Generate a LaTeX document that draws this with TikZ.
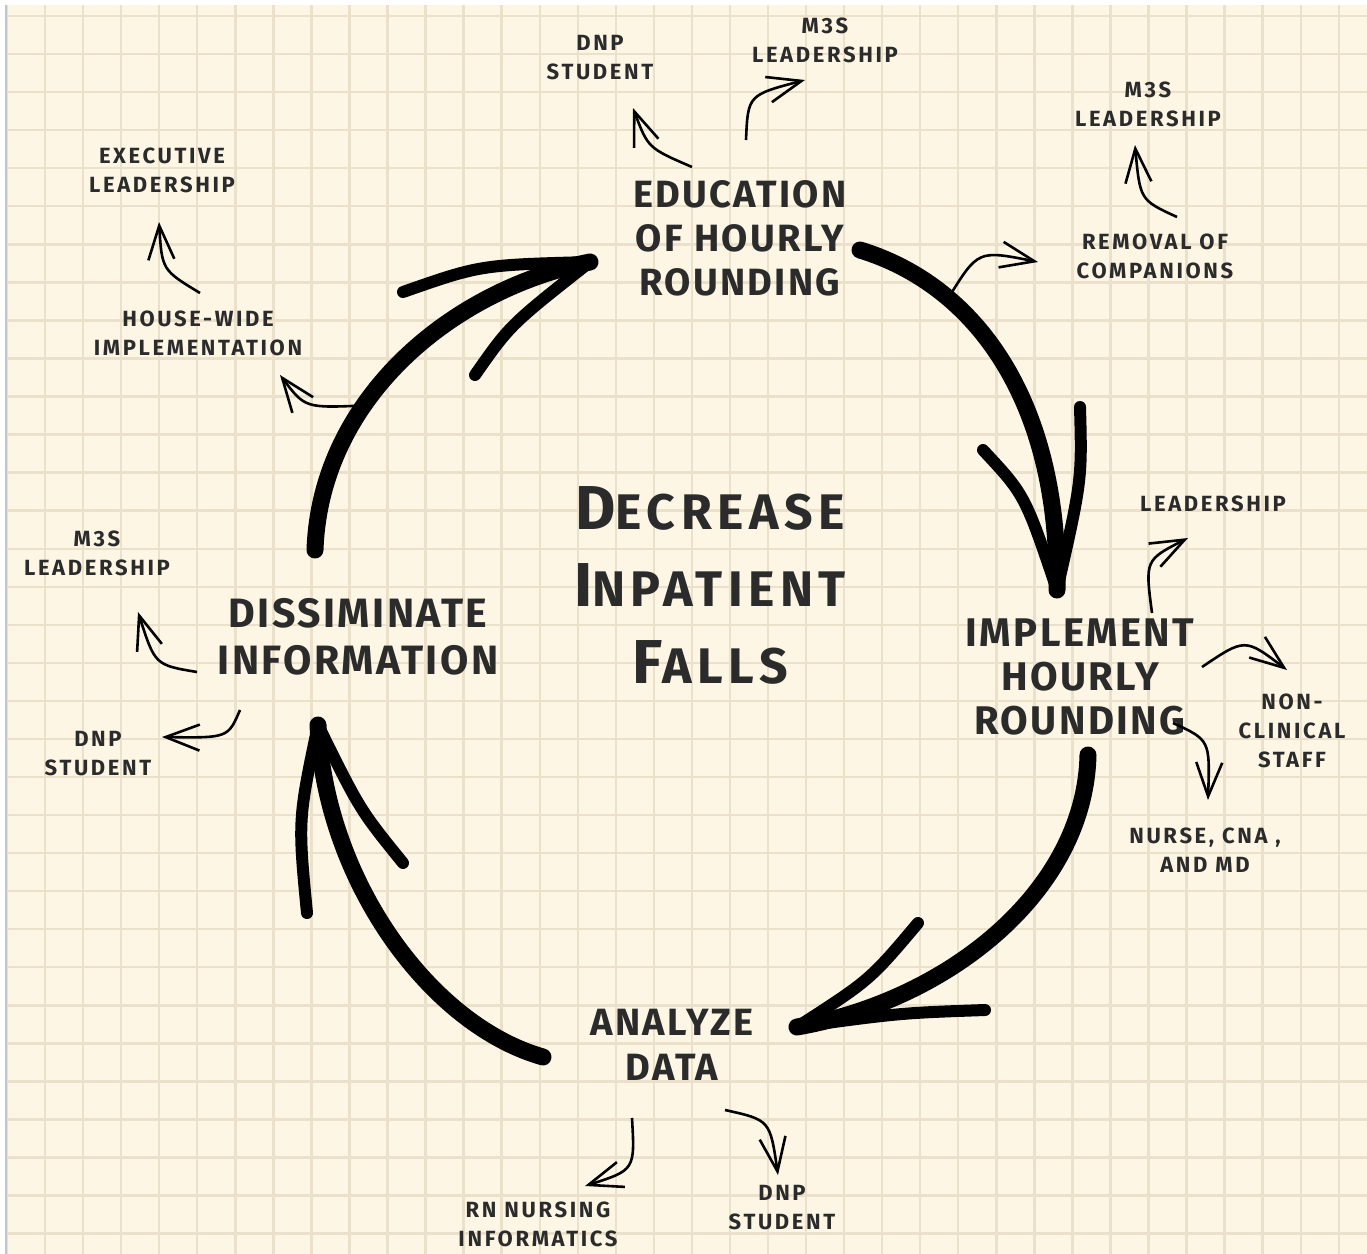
\documentclass[tikz,border=0pt]{standalone}
\usepackage{fontspec}
\setmainfont{Fira Sans}
\newfontfamily\handfont{Fira Sans}[LetterSpace=6]
\newfontfamily\titlefont{Fira Sans}[LetterSpace=11]
\newfontfamily\notefont{Fira Sans}[LetterSpace=12]
\usetikzlibrary{arrows.meta}
\definecolor{paper}{HTML}{FDF6E4}
\definecolor{gridc}{HTML}{EBE1CA}
\definecolor{edgec}{HTML}{BCC8CE}
\definecolor{ink}{HTML}{2B2B2B}
\newcommand{\capword}[2]{{\fontsize{31}{38}\selectfont #1}{\fontsize{25}{38}\selectfont #2}}

\begin{document}
\begin{tikzpicture}[x=0.5pt,y=-0.5pt,
    stage/.style={text=ink,align=center,font={\handfont\bfseries\fontsize{19}{22}\selectfont}},
    note/.style={text=ink,align=center,font={\notefont\bfseries\fontsize{11}{14.5}\selectfont}},
    brush/.style={draw=black,line width=8.5pt,line cap=round},
    barb/.style={draw=black,line width=6pt,line cap=round},
    link/.style={draw=black,line width=1.3pt,-{Straight Barb[length=17pt,width=13pt]}},
    gridline/.style={draw=gridc,line width=1.2pt}]
    \useasboundingbox (0,0) rectangle (1367,1254);
    \fill[white] (0,0) rectangle (1367,1254);
    \fill[paper] (6,5) rectangle (1367,1254);
    \foreach \i in {0,...,35}
      \draw[gridline] ({7+38.05*\i},5) -- ({7+38.05*\i},1254);
    \foreach \j in {0,...,32}
      \draw[gridline] (6,{16+38.05*\j}) -- (1367,{16+38.05*\j});
    \draw[edgec,line width=1pt] (5.5,5) -- (5.5,1254);

    \node[stage] (Edu) at (740,238) {EDUCATION\\OF HOURLY\\ROUNDING};
    \node[stage,font={\handfont\bfseries\fontsize{20}{22}\selectfont}] (Impl) at (1080,677) {IMPLEMENT\\HOURLY\\ROUNDING};
    \node[stage,font={\handfont\bfseries\fontsize{19}{22.5}\selectfont}] (Anal) at (672,1045) {ANALYZE\\DATA};
    \node[stage,font={\handfont\bfseries\fontsize{20.5}{23.5}\selectfont}] (Diss) at (358,637) {DISSIMINATE\\INFORMATION};
    \node[stage,font={\titlefont\bfseries\fontsize{25}{38.5}\selectfont}] (Goal) at (710,585)
      {\capword{D}{ECREASE}\\\capword{I}{NPATIENT}\\\capword{F}{ALLS}};

    \node[note] (dnpT) at (600,58) {DNP\\STUDENT};
    \node[note] (mssT) at (825,40) {M3S\\LEADERSHIP};
    \node[note] (mssR) at (1148,104) {M3S\\LEADERSHIP};
    \node[note] (remv) at (1155,256) {REMOVAL OF\\COMPANIONS};
    \node[note] (exec) at (162,170) {EXECUTIVE\\LEADERSHIP};
    \node[note] (house) at (198,333) {HOUSE-WIDE\\IMPLEMENTATION};
    \node[note] (mssL) at (97,553) {M3S\\LEADERSHIP};
    \node[note] (dnpL) at (98,754) {DNP\\STUDENT};
    \node[note] (lead) at (1213,504) {LEADERSHIP};
    \node[note] (nonc) at (1292,731) {NON-\\CLINICAL\\STAFF};
    \node[note] (nurse) at (1205,850) {NURSE, CNA ,\\AND MD};
    \node[note] (rn) at (538,1224) {RN NURSING\\INFORMATICS};
    \node[note] (dnpB) at (782,1208) {DNP\\STUDENT};

    \draw[brush] ([shift={(120,12)}]Edu.center) .. controls (975,285) and (1060,400) .. ([shift={(-23,-87)}]Impl.center) coordinate[pos=0.28] (aOut) coordinate (aTip);
    \draw[barb] (1080,407) .. controls (1082,480) .. (aTip);
    \draw[barb] (983,450) .. controls (1025,495) .. (aTip);
    \draw[brush] ([shift={(8,78)}]Impl.center) .. controls (1085,890) and (950,1000) .. ([shift={(125,-18)}]Anal.center) coordinate (bTip);
    \draw[barb] (918,923) .. controls (870,980) .. (bTip);
    \draw[barb] (985,1010) .. controls (900,1013) .. (bTip);
    \draw[brush] ([shift={(-129,12)}]Anal.center) .. controls (430,1025) and (325,880) .. ([shift={(-40,88)}]Diss.center) coordinate (cTip);
    \draw[barb] (403,863) .. controls (360,810) .. (cTip);
    \draw[barb] (307,913) .. controls (298,820) .. (cTip);
    \draw[brush] ([shift={(-43,-87)}]Diss.center) .. controls (320,400) and (450,290) .. ([shift={(-150,24)}]Edu.center) coordinate[pos=0.36] (dOut) coordinate (dTip);
    \draw[barb] (403,292) .. controls (480,265) .. (dTip);
    \draw[barb] (475,375) .. controls (510,325) .. (dTip);

    \draw[link] ([shift={(-48,-71)}]Edu.center) .. controls (648,148) .. ([shift={(33,50)}]dnpT.center);
    \draw[link] ([shift={(6,-98)}]Edu.center) .. controls (748,95) .. ([shift={(-20,40)}]mssT.center);
    \draw[link] (aOut) .. controls (978,250) .. ([shift={(-117,6)}]remv.center);
    \draw[link] ([shift={(22,-39)}]remv.center) .. controls (1140,200) .. ([shift={(-13,41)}]mssR.center);
    \draw[link] ([shift={(2,-40)}]house.center) .. controls (162,270) .. ([shift={(-3,52)}]exec.center);
    \draw[link] (dOut) .. controls (305,408) .. ([shift={(82,42)}]house.center);
    \draw[link] ([shift={(-161,35)}]Diss.center) .. controls (155,665) .. ([shift={(41,59)}]mssL.center);
    \draw[link] ([shift={(-118,73)}]Diss.center) .. controls (228,738) .. ([shift={(64,-17)}]dnpL.center);
    \draw[link] ([shift={(72,-64)}]Impl.center) .. controls (1145,560) .. ([shift={(-25,34)}]lead.center);
    \draw[link] ([shift={(122,-10)}]Impl.center) .. controls (1245,638) .. ([shift={(-5,-61)}]nonc.center);
    \draw[link] ([shift={(93,46)}]Impl.center) .. controls (1210,740) .. ([shift={(3,-50)}]nurse.center);
    \draw[link] ([shift={(-40,73)}]Anal.center) .. controls (635,1170) .. ([shift={(47,-38)}]rn.center);
    \draw[link] ([shift={(53,65)}]Anal.center) .. controls (770,1120) .. ([shift={(-4,-33)}]dnpB.center);
\end{tikzpicture}
\end{document}
